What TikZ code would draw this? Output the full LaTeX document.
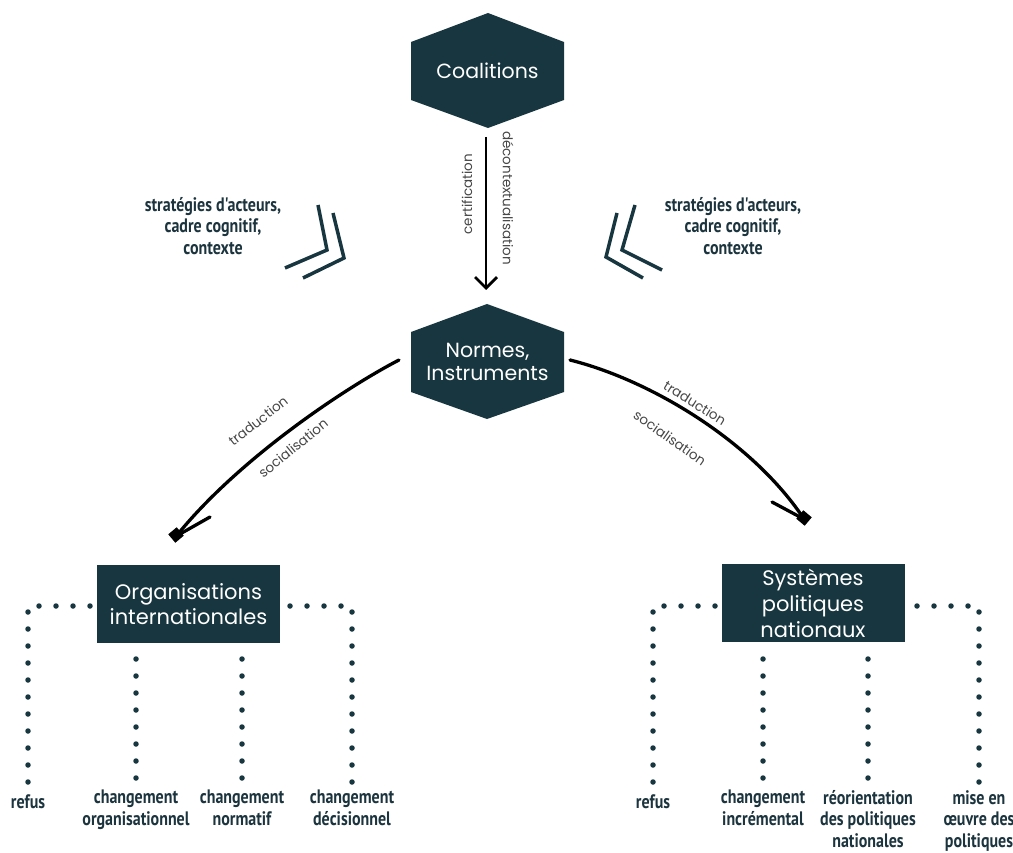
\documentclass[tikz,border=0pt]{standalone}
\usepackage{fontspec}
\setmainfont{Poppins}
\newfontfamily\cond[FakeStretch=0.82]{PT Sans}
\usetikzlibrary{arrows.meta}
\definecolor{dteal}{RGB}{23,54,63}
\definecolor{lblgray}{RGB}{70,70,70}
\definecolor{txtteal}{RGB}{28,52,62}
\tikzset{
  hexfill/.style={fill=dteal},
  hextext/.style={text=white, font=\fontsize{20.5}{23}\selectfont, align=center, inner sep=0},
  boxnode/.style={fill=dteal, text=white, font=\fontsize{21}{25}\selectfont, align=center, minimum width=183pt, minimum height=78pt, inner sep=0},
  edgelbl/.style={text=lblgray, font=\fontsize{13.5}{15}\selectfont, inner sep=0},
  outlbl/.style={text=txtteal, font=\cond\bfseries\fontsize{19.5}{21.5}\selectfont, align=center, inner sep=0},
  dots/.style={draw=dteal, line width=5.5pt, line cap=round, dash pattern=on 0pt off 17pt},
  chev/.style={draw=dteal, line width=3.5pt},
  curvearrow/.style={draw=black, line width=3.3pt, line cap=round},
}
\begin{document}
\begin{tikzpicture}[x=1pt,y=-1pt]
\useasboundingbox (0,0) rectangle (1013,853);

% hexagons
\fill[hexfill] (488,13) -- (564,42) -- (564,100) -- (488,128) -- (411,100) -- (411,42) -- cycle;
\node[hextext] (coal) at (487.5,71) {Coalitions};
\fill[hexfill] (487,304) -- (564,332) -- (564,392) -- (487,419) -- (411,392) -- (411,332) -- cycle;
\node[hextext] (norm) at (487.5,362) {Normes,\\Instruments};

% vertical arrow
\coordinate (vs) at (486,137);
\coordinate (ve) at (486,290);
\draw[black, line width=2.8pt, -{Straight Barb[length=11pt,width=22pt,line width=2.8pt]}] (vs) -- (ve);
\node[edgelbl, rotate=90] (cert) at (467,194) {certification};
\node[edgelbl, rotate=-90] (deco) at (508,198) {décontextualisation};

% chevrons
\draw[chev] (318,205) -- (327,250) -- (285,268);
\draw[chev] (333,213) -- (344,258) -- (303,278);
\draw[chev] (635,205) -- (622,250) -- (662,270);
\draw[chev] (617,213) -- (606,257) -- (643,278);
\node[outlbl] (ctxL) at (213,226) {stratégies d'acteurs,\\cadre cognitif,\\contexte};
\node[outlbl] (ctxR) at (733,226) {stratégies d'acteurs,\\cadre cognitif,\\contexte};

% curved arrows
\coordinate (ls) at (399,360);
\coordinate (le) at (178,534);
\draw[curvearrow] (ls) .. controls (345,388) and (240,458) .. (le);
\draw[curvearrow] (210,517) -- (180,534);
\fill[black, rotate around={40:(176,535)}] (170.5,529.5) rectangle (181.5,540.5);
\coordinate (rs) at (570,360);
\coordinate (re) at (802,516);
\draw[curvearrow] (rs) .. controls (650,380) and (750,440) .. (re);
\draw[curvearrow] (772,502) -- (800,517);
\fill[black, rotate around={-40:(804,518)}] (798.5,512.5) rectangle (809.5,523.5);

\node[edgelbl, rotate=38] (trL) at (258,421) {traduction};
\node[edgelbl, rotate=39] (soL) at (293,448) {socialisation};
\node[edgelbl, rotate=-32] (trR) at (695,403) {traduction};
\node[edgelbl, rotate=-35] (soR) at (670,438) {socialisation};

% bottom labels
\node[outlbl] (r1) at (28,802) {refus};
\node[outlbl, anchor=north] (c1) at (136,790) {changement\\organisationnel};
\node[outlbl, anchor=north] (c2) at (242,790) {changement\\normatif};
\node[outlbl, anchor=north] (c3) at (352,790) {changement\\décisionnel};
\node[outlbl] (r2) at (653,802) {refus};
\node[outlbl, anchor=north] (d1) at (763,790) {changement\\incrémental};
\node[outlbl, anchor=north] (d2) at (868,790) {réorientation\\des politiques\\nationales};
\node[outlbl, anchor=north] (d3) at (979,790) {mise en\\œuvre des\\politiques};

% dotted connectors (drawn before boxes)
\coordinate (oiA) at (28,782);
\coordinate (oiB) at (136,778);
\coordinate (oiC) at (242,778);
\coordinate (oiD) at (352,782);
\coordinate (spA) at (653,782);
\coordinate (spB) at (763,778);
\coordinate (spC) at (868,778);
\coordinate (spD) at (979,782);
\coordinate (oiTop) at (0,606);
\coordinate (oiBot) at (0,643);

\node[boxnode, draw=none, fill=none] (oiG) at (188.5,604) {};
\node[boxnode, draw=none, fill=none] (spG) at (813,604) {};

\draw[dots] (oiA) |- (oiG.west |- oiTop);
\draw[dots] (oiB) -- (oiB |- oiBot);
\draw[dots] (oiC) -- (oiC |- oiBot);
\draw[dots] (oiD) |- (oiG.east |- oiTop);
\draw[dots] (spA) |- (spG.west |- oiTop);
\draw[dots] (spB) -- (spB |- oiBot);
\draw[dots] (spC) -- (spC |- oiBot);
\draw[dots] (spD) |- (spG.east |- oiTop);

% boxes
\node[boxnode] (oi) at (188.5,604) {Organisations\\internationales};
\node[boxnode, font=\fontsize{21}{26}\selectfont] (sp) at (813,603) {Systèmes\\politiques\\nationaux};
\end{tikzpicture}
\end{document}
